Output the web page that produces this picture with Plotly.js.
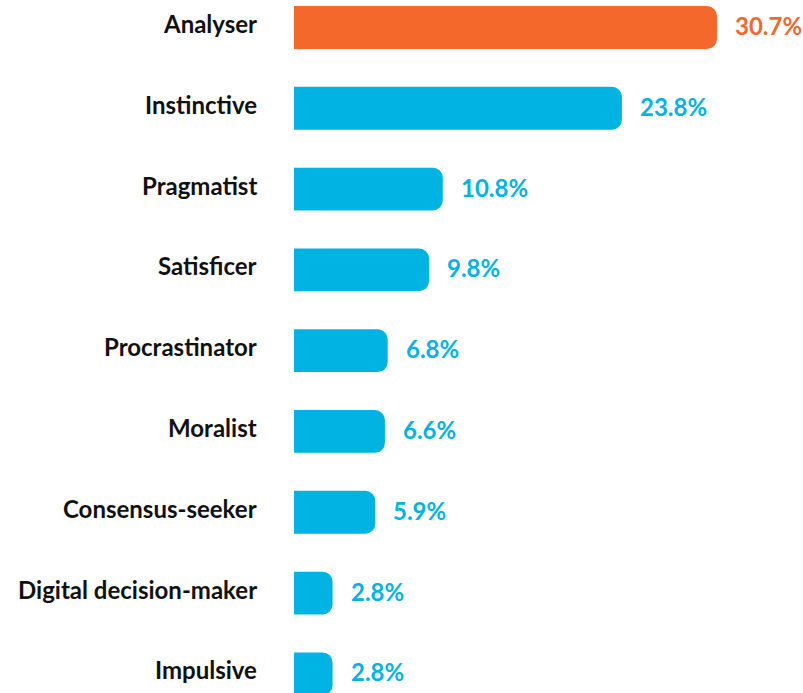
<!DOCTYPE html>
<html>
<head>
<meta charset="utf-8">
<script src="https://cdn.plot.ly/plotly-3.0.1.min.js"></script>
<style>html,body{margin:0;padding:0;background:#fff;}#chart{width:803px;height:693px;}</style>
</head>
<body>
<div id="chart"></div>
<script>
const categories = ["Analyser","Instinctive","Pragmatist","Satisficer","Procrastinator","Moralist","Consensus-seeker","Digital decision-maker","Impulsive"];
const values = [30.7,23.8,10.8,9.8,6.8,6.6,5.9,2.8,2.8];
const valueLabels = ["30.7%","23.8%","10.8%","9.8%","6.8%","6.6%","5.9%","2.8%","2.8%"];
const ORANGE = "#F4682C", BLUE = "#00B3E3";
const colors = categories.map((c,i)=> i===0 ? ORANGE : BLUE);

const trace = {
  type: "bar", orientation: "h",
  x: values, y: categories,
  marker: {color: colors, cornerradius: 10},
  width: 0.53,
  hoverinfo: "none"
};
const valueAnn = categories.map((c,i)=>({
  x: values[i], y: c, xref: "x", yref: "y",
  text: "<b>"+valueLabels[i]+"</b>", showarrow: false,
  xanchor: "left", yanchor: "middle", xshift: 16, yshift: 2,
  font: {family: "Lato, sans-serif", size: 24, color: colors[i]}
}));
const catAnn = categories.map((c,i)=>({
  x: 0, y: c, xref: "paper", yref: "y",
  text: "<b>"+c+"</b>", showarrow: false,
  xanchor: "right", yanchor: "middle", xshift: -35, yshift: 4,
  font: {family: "Lato, sans-serif", size: 24, color: "#111"}
}));
const layout = {
  width: 803, height: 693,
  margin: {l: 294, r: 0, t: 0, b: 0},
  paper_bgcolor: "#fff", plot_bgcolor: "#fff",
  showlegend: false,
  xaxis: {range: [0, 36.94], visible: false, fixedrange: true},
  yaxis: {type: "category", range: [8.237, -0.340], showgrid: false, zeroline: false, showline: false,
          ticks: "", showticklabels: false},
  annotations: catAnn.concat(valueAnn)
};
Plotly.newPlot("chart", [trace], layout, {displayModeBar: false, staticPlot: true});
</script>
</body>
</html>
